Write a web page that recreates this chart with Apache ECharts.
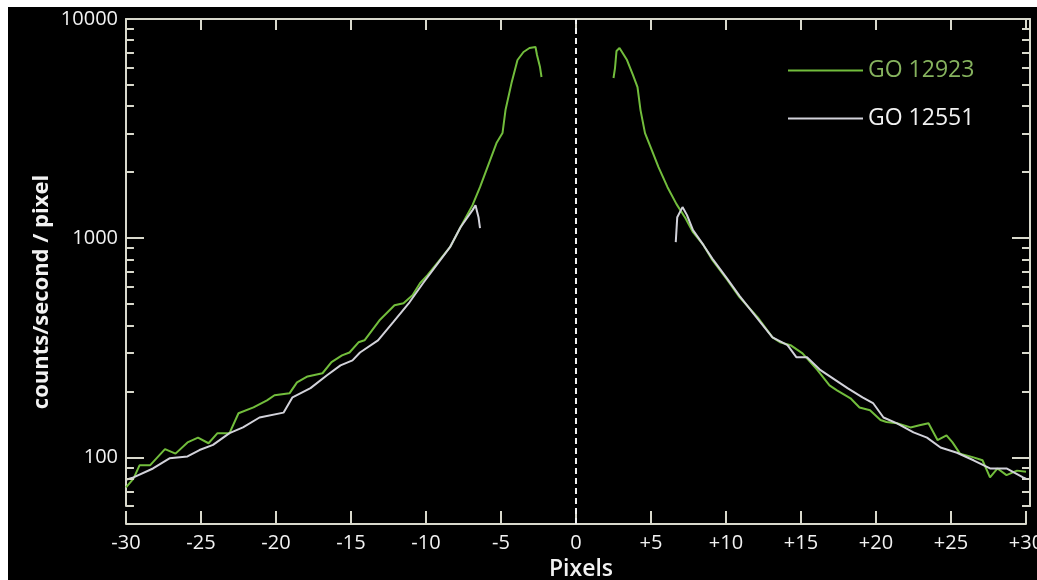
<!DOCTYPE html>
<html>
<head>
<meta charset="utf-8">
<script src="https://cdn.jsdelivr.net/npm/echarts@6/dist/echarts.min.js"></script>
<style>
  html, body { margin: 0; padding: 0; background: #fff; }
  #chart { position: absolute; left: 8px; top: 7px; width: 1029px; height: 573px; background: #000; }
</style>
</head>
<body>
<div id="chart"></div>
<script>
// counts/second/pixel profiles, [pixel offset, counts]
const go12923Left = [
  [-30, 73], [-29.5, 80], [-29.1, 92], [-28.4, 92], [-27.4, 109], [-26.7, 104],
  [-25.9, 117], [-25.2, 123], [-24.5, 116], [-23.9, 129], [-23.1, 129], [-22.5, 159],
  [-21.5, 169], [-20.6, 182], [-20.1, 192], [-19.1, 196], [-18.6, 220], [-17.9, 234],
  [-16.9, 242], [-16.3, 272], [-15.6, 292], [-15.1, 301], [-14.5, 335], [-14.1, 342],
  [-13.1, 422], [-12.1, 494], [-11.5, 505], [-10.9, 549], [-10.4, 623], [-9.9, 678],
  [-9.2, 777], [-8.4, 910], [-7.7, 1122], [-6.9, 1415], [-6.4, 1709], [-5.9, 2110],
  [-5.3, 2716], [-4.9, 3016], [-4.7, 3841], [-4.3, 5100], [-3.9, 6500], [-3.5, 7070],
  [-3.1, 7375], [-2.7, 7450], [-2.6, 6850], [-2.4, 6035], [-2.3, 5436]
];
const go12923Right = [
  [2.5, 5380], [2.6, 5975], [2.7, 7140], [2.9, 7375], [3.4, 6500], [3.8, 5550],
  [4.1, 4890], [4.3, 3841], [4.6, 3016], [5.0, 2576], [5.5, 2110], [6.1, 1709],
  [6.7, 1430], [7.3, 1234], [7.8, 1065], [8.5, 929], [9.1, 794], [10.1, 643],
  [10.9, 538], [12.1, 436], [13.1, 353], [13.6, 335], [14.3, 325], [15.1, 298],
  [16.1, 250], [16.9, 213], [17.4, 202], [18.3, 186], [18.9, 169], [19.6, 164],
  [20.3, 148], [20.7, 145], [21.4, 143], [22.3, 137], [22.9, 140], [23.5, 143],
  [24.1, 120], [24.7, 126], [25.1, 117], [25.6, 104], [26.5, 100], [27.1, 97],
  [27.6, 81], [28.1, 89], [28.7, 83], [29.4, 87], [30, 86]
];
const go12551Left = [
  [-30, 79], [-29.5, 81], [-28.2, 89], [-27.1, 99], [-25.9, 101], [-25.1, 108],
  [-24.2, 114], [-23.1, 129], [-22.2, 137], [-21.1, 152], [-19.5, 160], [-18.9, 188],
  [-17.7, 207], [-16.6, 237], [-15.7, 263], [-14.9, 277], [-14.4, 301], [-13.2, 342],
  [-12.2, 413], [-11.1, 510], [-10.2, 623], [-9.3, 753], [-8.4, 910], [-7.7, 1122],
  [-6.9, 1343], [-6.7, 1415], [-6.5, 1247], [-6.4, 1111]
];
const go12551Right = [
  [6.65, 960], [6.75, 1247], [7.1, 1386], [7.4, 1274], [7.8, 1088], [8.5, 929],
  [9.1, 805], [10.1, 650], [10.9, 546], [12.3, 413], [13.1, 353], [14.1, 325],
  [14.7, 286], [15.4, 286], [16.3, 250], [17.1, 230], [18.1, 207], [19.1, 188],
  [19.8, 177], [20.5, 152], [21.4, 143], [22.5, 130], [23.4, 123], [24.3, 111],
  [25.4, 105], [26.5, 97], [27.6, 89], [28.7, 89], [29.8, 81], [30, 80]
];
const yMajorTicks = [100, 1000];
const yLabelTicks = [100, 1000, 10000];
const yMinorTicks = [60, 70, 80, 90, 200, 300, 400, 500, 600, 700, 800, 900,
  2000, 3000, 4000, 5000, 6000, 7000, 8000, 9000, 10000];

const FONT = "'Open Sans', sans-serif";
const AXIS_COLOR = "#d9d9cc";
const TEXT_COLOR = "#f2f2f2";
const GREEN = "#72bd3c";
const WHITE = "#d2d2da";
const X_MIN = -30;

const chart = echarts.init(document.getElementById("chart"));

function logAxis(position, ticks, len, withLabels) {
  return {
    type: "log",
    logBase: 10,
    gridIndex: 0,
    position: position,
    offset: position === "left" ? 0 : 4,
    min: 60,
    max: 10000,
    axisLine: { show: true, onZero: false, lineStyle: { color: AXIS_COLOR, width: 2 } },
    axisTick: {
      show: ticks.length > 0,
      inside: true,
      length: len,
      customValues: ticks,
      lineStyle: { color: AXIS_COLOR, width: 2 },
    },
    axisLabel: withLabels
      ? {
          show: true,
          customValues: yLabelTicks,
          margin: 8,
          color: TEXT_COLOR,
          fontFamily: FONT,
          fontSize: 20,
          formatter: (v) => String(Math.round(v)),
        }
      : { show: false },
    splitLine: { show: false },
  };
}

// left-edge ticks as short segments (axis ticks did not show on that side)
function leftTicks(values, lenX) {
  return values.map((v) => [{ coord: [X_MIN, v] }, { coord: [X_MIN + lenX, v] }]);
}

const option = {
  backgroundColor: "#000",
  animation: false,
  grid: [
    { left: 118, right: 11, top: 12, height: 487, outerBoundsMode: "none" },
    { left: 118, right: 11, top: 12, height: 505, outerBoundsMode: "none" },
  ],
  legend: {
    orient: "vertical",
    left: 780,
    top: 52,
    padding: 0,
    icon: "rect",
    itemWidth: 75,
    itemHeight: 2,
    itemGap: 25,
    textStyle: { fontFamily: FONT, fontSize: 23 },
    data: [
      { name: "GO 12923", textStyle: { color: "#86b35e" } },
      { name: "GO 12551", textStyle: { color: TEXT_COLOR } },
    ],
  },
  xAxis: [
    {
      type: "value",
      gridIndex: 0,
      position: "top",
      min: X_MIN,
      max: 30,
      interval: 5,
      axisLine: { show: true, onZero: false, lineStyle: { color: AXIS_COLOR, width: 2 } },
      axisTick: { show: true, inside: true, length: 11, lineStyle: { color: AXIS_COLOR, width: 2 } },
      axisLabel: { show: false },
      splitLine: { show: false },
    },
    {
      type: "value",
      gridIndex: 1,
      position: "bottom",
      min: X_MIN,
      max: 30,
      interval: 5,
      axisLine: { show: true, onZero: false, lineStyle: { color: AXIS_COLOR, width: 2 } },
      axisTick: { show: true, inside: true, length: 13, lineStyle: { color: AXIS_COLOR, width: 2 } },
      axisLabel: {
        margin: 9,
        color: TEXT_COLOR,
        fontFamily: FONT,
        fontSize: 20,
        formatter: (v) => (v > 0 ? "+" + v : String(v)),
      },
      splitLine: { show: false },
      name: "Pixels",
      nameLocation: "middle",
      nameGap: 34,
      nameTextStyle: {
        color: TEXT_COLOR, fontFamily: FONT, fontWeight: 600, fontSize: 23,
        padding: [0, 0, 0, 10],
      },
    },
  ],
  yAxis: [
    logAxis("left", [], 0, true),
    logAxis("right", yMajorTicks, 18, false),
    logAxis("right", yMinorTicks, 8, false),
    {
      type: "value",
      gridIndex: 1,
      position: "left",
      offset: 3,
      min: 0,
      max: 1,
      axisLine: { show: false },
      axisTick: { show: false },
      axisLabel: { show: false },
      splitLine: { show: false },
      name: "counts/second / pixel",
      nameLocation: "middle",
      nameRotate: 90,
      nameGap: 70,
      nameTextStyle: {
        color: TEXT_COLOR,
        fontFamily: FONT,
        fontWeight: "bold",
        fontSize: 22,
        padding: [0, 41, 0, 0],
      },
    },
  ],
  series: [
    {
      name: "GO 12923",
      type: "line",
      xAxisIndex: 0,
      yAxisIndex: 0,
      symbol: "none",
      color: GREEN,
      lineStyle: { width: 2, color: GREEN },
      data: go12923Left.concat([[0, "-"]], go12923Right),
    },
    {
      name: "GO 12551",
      type: "line",
      xAxisIndex: 0,
      yAxisIndex: 0,
      symbol: "none",
      color: WHITE,
      lineStyle: { width: 2, color: WHITE },
      data: go12551Left.concat([[0, "-"]], go12551Right),
    },
    {
      type: "line",
      xAxisIndex: 0,
      yAxisIndex: 0,
      symbol: "none",
      silent: true,
      data: [],
      markLine: {
        silent: true,
        symbol: "none",
        label: { show: false },
        lineStyle: { color: AXIS_COLOR, width: 2, type: "solid" },
        data: leftTicks(yMajorTicks, 1.2).concat(leftTicks(yMinorTicks, 0.53)),
      },
    },
    {
      type: "line",
      xAxisIndex: 1,
      yAxisIndex: 3,
      symbol: "none",
      silent: true,
      data: [],
      markLine: {
        silent: true,
        symbol: "none",
        label: { show: false },
        lineStyle: { color: "#f0f0f0", width: 2, type: [6, 4] },
        data: [{ xAxis: 0 }],
      },
    },
  ],
};

chart.setOption(option);
</script>
</body>
</html>
